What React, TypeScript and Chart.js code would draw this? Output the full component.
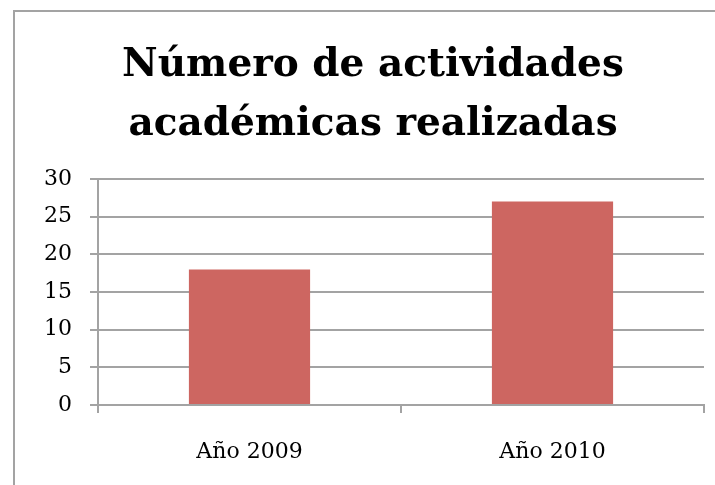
import React, { useEffect, useRef } from "react";
import { Chart, registerables } from "chart.js";

Chart.register(...registerables);

const categories = ["Año 2009", "Año 2010"];
const values = [18, 27];
const titleLines = ["Número de actividades", "académicas realizadas"];
const yMin = 0;
const yMax = 30;
const yStep = 5;

const GRID = "#A3A3A3";
const BAR = "#CD6661";

const framePlugin = {
  id: "frame",
  beforeDraw(chart: any) {
    const ctx = chart.ctx;
    ctx.save();
    ctx.fillStyle = "#FFFFFF";
    ctx.fillRect(0, 0, chart.width, chart.height);
    ctx.fillStyle = GRID;
    ctx.fillRect(13, 10, chart.width - 13, 2);
    ctx.fillRect(13, 10, 2, chart.height - 10);
    ctx.restore();
  },
};

export default function App() {
  const ref = useRef<HTMLCanvasElement | null>(null);
  useEffect(() => {
    if (!ref.current) return;
    const chart = new Chart(ref.current, {
      type: "bar",
      data: {
        labels: categories,
        datasets: [
          {
            data: values,
            backgroundColor: BAR,
            borderWidth: 0,
            barPercentage: 0.4,
            categoryPercentage: 1,
          },
        ],
      },
      options: {
        responsive: false,
        animation: false,
        layout: { padding: { left: 42, right: 11, top: 0, bottom: 0 } },
        plugins: {
          legend: { display: false },
          tooltip: { enabled: false },
          title: {
            display: true,
            text: titleLines,
            color: "#000000",
            font: { family: "DejaVu Serif", weight: "bold", size: 39, lineHeight: 59 / 39 },
            padding: { top: 36, bottom: 25 },
          },
        },
        scales: {
          x: {
            grid: {
              display: true,
              drawOnChartArea: false,
              drawTicks: true,
              tickLength: 8,
              color: GRID,
              lineWidth: 2,
            },
            border: { display: true, color: GRID, width: 2 },
            ticks: {
              color: "#000000",
              font: { family: "DejaVu Serif", size: 22 },
              padding: 26,
            },
            afterFit(scale: any) {
              scale.height = 80;
            },
          },
          y: {
            min: yMin,
            max: yMax,
            grid: {
              color: GRID,
              lineWidth: 2,
              drawTicks: true,
              tickLength: 8,
            },
            border: { display: true, color: GRID, width: 2 },
            ticks: {
              stepSize: yStep,
              color: "#000000",
              font: { family: "DejaVu Serif", size: 22 },
              padding: 18,
            },
            afterFit(scale: any) {
              scale.width = 56;
            },
          },
        },
      },
      plugins: [framePlugin],
    });
    return () => chart.destroy();
  }, []);
  return (
    <div style={{ position: "fixed", left: 0, top: 0, width: 715, height: 485 }}>
      <canvas ref={ref} width={715} height={485} style={{ display: "block", width: 715, height: 485 }} />
    </div>
  );
}
